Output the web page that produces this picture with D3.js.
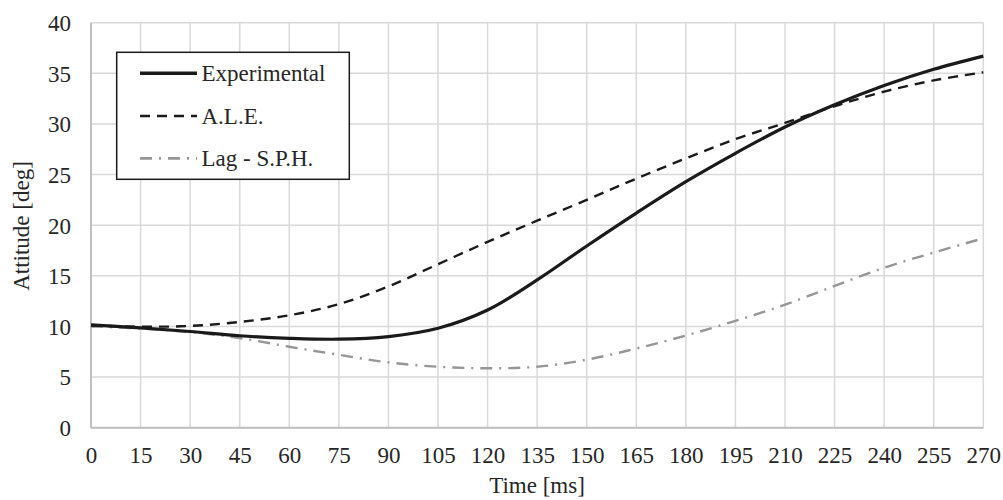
<!DOCTYPE html>
<html><head><meta charset="utf-8">
<script src="https://cdn.jsdelivr.net/npm/d3@7"></script>
<style>body{margin:0;background:#fff}svg{display:block}text{font-family:"Liberation Serif","Times New Roman",serif;fill:#262626}</style>
</head><body><svg id="c" width="1003" height="500"></svg>
<script>
const time = [0,15,30,45,60,75,90,105,120,135,150,165,180,195,210,225,240,255,270];
const experimental = [10.15,9.85,9.5,9.08,8.83,8.74,9.0,9.82,11.62,14.6,17.95,21.2,24.3,27.1,29.7,31.9,33.8,35.4,36.7];
const ale = [10.1,9.98,10.05,10.45,11.1,12.2,13.95,16.15,18.35,20.45,22.5,24.6,26.6,28.5,30.1,31.75,33.2,34.3,35.1];
const lag = [10.0,9.8,9.45,8.85,8.0,7.2,6.45,6.02,5.87,6.02,6.72,7.82,9.1,10.55,12.15,14.0,15.8,17.3,18.7];
const xTicks = d3.range(0,271,15);
const yTicks = d3.range(0,41,5);
const seriesNames = ["Experimental","A.L.E.","Lag - S.P.H."];

const svg = d3.select("#c");
const x = d3.scaleLinear().domain([0,270]).range([91,983.3]);
const y = d3.scaleLinear().domain([0,40]).range([427.7,22.7]);

const g = svg.append("g");
g.selectAll("line.v").data(xTicks).enter().append("line")
 .attr("x1",d=>x(d)).attr("x2",d=>x(d)).attr("y1",y(0)).attr("y2",y(40))
 .attr("stroke","#d9d9d9").attr("stroke-width",1.5);
g.selectAll("line.h").data(yTicks).enter().append("line")
 .attr("y1",d=>y(d)).attr("y2",d=>y(d)).attr("x1",x(0)).attr("x2",x(270))
 .attr("stroke","#d9d9d9").attr("stroke-width",1.5);
g.append("line").attr("x1",x(0)).attr("x2",x(0)).attr("y1",y(0)).attr("y2",y(40)).attr("stroke","#bfbfbf").attr("stroke-width",2);
g.append("line").attr("x1",x(0)).attr("x2",x(270)).attr("y1",y(0)).attr("y2",y(0)).attr("stroke","#bfbfbf").attr("stroke-width",2);

const xa = svg.append("g").attr("transform",`translate(0,${y(0)})`)
 .call(d3.axisBottom(x).tickValues(xTicks).tickSize(0).tickPadding(0).tickFormat(d3.format("d")));
xa.select(".domain").remove();
xa.selectAll("text").attr("y",35.5).attr("dy",0).style("font-size","23px").attr("fill","#262626");
const ya = svg.append("g").attr("transform",`translate(${x(0)},0)`)
 .call(d3.axisLeft(y).tickValues(yTicks).tickSize(0).tickPadding(20).tickFormat(d3.format("d")));
ya.select(".domain").remove();
ya.selectAll("text").attr("dy","0.34em").style("font-size","23px").attr("fill","#262626");

svg.append("text").attr("x",537).attr("y",493).attr("text-anchor","middle").style("font-size","23px").text("Time [ms]");
svg.append("text").attr("transform","translate(29,226) rotate(-90)").attr("text-anchor","middle").style("font-size","23px").text("Attitude [deg]");

const styles = [
 {data:experimental,color:"#1a1a1a",w:3.2,dash:null},
 {data:ale,color:"#1a1a1a",w:2.4,dash:"10,7"},
 {data:lag,color:"#969696",w:2.4,dash:"12,7,2,7"}
];
const line = d3.line().x((d,i)=>x(time[i])).y(d=>y(d)).curve(d3.curveCatmullRom.alpha(0.5));
[2,1,0].forEach(k=>{
  const s=styles[k];
  svg.append("path").attr("d",line(s.data)).attr("fill","none").attr("stroke",s.color)
   .attr("stroke-width",s.w).attr("stroke-dasharray",s.dash);
});

const lg = svg.append("g");
lg.append("rect").attr("x",116.7).attr("y",52.3).attr("width",232.6).attr("height",127)
 .attr("fill","#fff").attr("stroke","#1a1a1a").attr("stroke-width",1.5);
const rows=[73.3,116,158.3];
seriesNames.forEach((n,i)=>{
  const s=styles[i];
  lg.append("line").attr("x1",140).attr("x2",197).attr("y1",rows[i]).attr("y2",rows[i])
   .attr("stroke",s.color).attr("stroke-width",s.w+0.3).attr("stroke-dasharray",s.dash);
  lg.append("text").attr("x",201.5).attr("y",rows[i]).attr("dy","0.34em").style("font-size","23px").text(n);
});
</script></body></html>
